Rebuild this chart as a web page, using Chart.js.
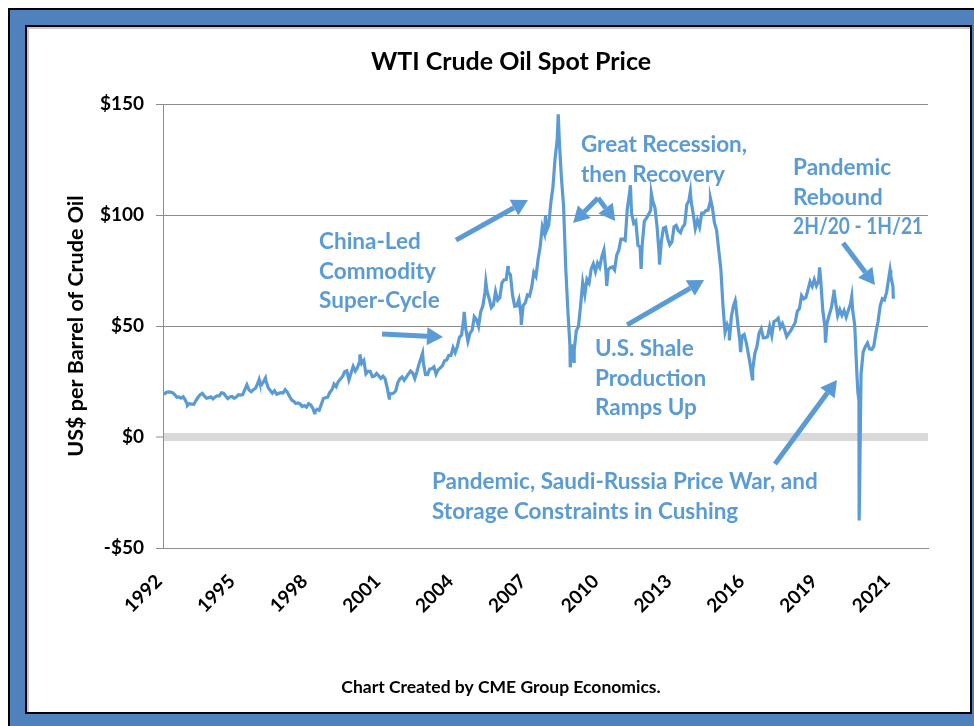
<!DOCTYPE html>
<html>
<head>
<meta charset="utf-8">
<script src="https://cdn.jsdelivr.net/npm/chart.js@4.4.1/dist/chart.umd.min.js"></script>
<style>
  html, body { margin: 0; padding: 0; background: #fff; }
  body { width: 974px; height: 726px; position: relative; overflow: hidden; }
  .frame { position: absolute; left: 8px; top: 8px; width: 980px; height: 740px; background: #4f81bd; border-top: 2px solid #000; border-left: 2px solid #000; }
  .box { position: absolute; left: 25px; top: 25px; width: 943px; height: 685px; border: 2px solid #000; background: #fff; box-shadow: inset 2px 2px 0 #c8c8c8; }
  canvas { position: absolute; left: 27px; top: 27px; }
</style>
</head>
<body>
<div class="frame"></div>
<div class="box"></div>
<canvas id="wtiChart" width="943" height="685"></canvas>
<script>
// monthly average WTI spot price, US$ per barrel, starting Jan 1993
const startYear = 1993;
const wti1990s = [
    19.08, 20.05, 20.33, 20.25, 19.95, 19.09, 17.89, 18.01, 17.50, 18.15, 16.61, 14.52,
    15.03, 14.78, 14.68, 16.42, 17.89, 19.06, 19.66, 18.38, 17.45, 17.72, 18.07, 17.16,
    18.04, 18.57, 18.54, 19.90, 19.74, 18.45, 17.33, 18.02, 18.23, 17.43, 17.99, 19.03,
    18.86, 19.09, 21.33, 23.50, 21.17, 20.42, 21.30, 21.90, 23.97, 24.88, 23.71, 25.23,
    25.13, 22.18, 20.97, 19.70, 20.82, 19.26, 19.66, 19.95, 19.80, 21.33, 20.19, 18.33,
    16.72, 16.06, 15.12, 15.35, 14.91, 13.72, 14.17, 13.47, 15.03, 14.46, 13.00, 11.35,
    12.52, 12.01, 14.68, 17.31, 17.72, 17.92, 20.10, 21.28, 23.80, 22.69, 25.00, 26.10
];
const wti2000s = [
    27.26, 29.37, 29.84, 25.72, 28.79, 31.82, 29.70, 31.26, 33.88, 33.11, 34.42, 28.44,
    29.59, 29.61, 27.25, 27.49, 28.63, 27.60, 26.43, 27.37, 26.20, 22.17, 19.64, 19.39,
    19.72, 20.72, 24.53, 26.18, 27.04, 25.52, 26.97, 28.39, 29.66, 28.84, 26.35, 29.46,
    32.95, 35.83, 33.51, 28.17, 28.11, 30.66, 30.75, 31.57, 28.31, 30.34, 31.11, 32.13,
    34.31, 34.69, 36.74, 36.75, 40.28, 38.03, 40.78, 44.90, 45.94, 53.28, 48.47, 43.15,
    46.84, 48.15, 54.19, 52.98, 49.83, 56.35, 59.00, 64.99, 65.59, 62.26, 58.32, 59.41,
    65.49, 61.63, 62.69, 69.44, 70.84, 70.95, 74.41, 73.04, 63.80, 58.89, 59.08, 61.96,
    54.51, 59.28, 60.44, 63.98, 63.46, 67.49, 74.12, 72.36, 79.92, 85.80, 94.77, 91.69,
    92.97, 95.39, 105.45, 112.58, 125.40, 133.88, 133.37, 116.67, 104.11, 76.61, 57.31, 41.12,
    41.71, 39.09, 47.94, 49.65, 59.03, 69.64, 64.15, 71.05, 69.41, 75.72, 77.99, 74.47
];
const wti2010s = [
    78.33, 76.39, 81.20, 84.29, 73.74, 75.34, 76.32, 76.60, 75.24, 81.89, 84.25, 89.15,
    89.17, 88.58, 102.86, 109.53, 100.90, 96.26, 97.30, 86.33, 85.52, 86.32, 97.16, 98.56,
    100.27, 102.20, 106.16, 103.32, 94.66, 82.30, 87.90, 94.13, 94.51, 89.49, 86.53, 87.86,
    94.76, 95.31, 92.94, 92.02, 94.51, 95.77, 104.67, 106.57, 106.29, 100.54, 93.86, 97.63,
    94.62, 100.82, 100.80, 102.07, 102.18, 105.79, 103.59, 96.54, 93.21, 84.40, 75.79, 59.29,
    47.22, 50.58, 47.82, 54.45, 59.27, 59.82, 50.90, 42.87, 45.48, 46.22, 42.44, 37.19,
    31.68, 30.32, 37.55, 40.75, 46.71, 48.76, 44.65, 44.72, 45.18, 49.78, 45.66, 51.97,
    52.50, 53.47, 49.33, 51.06, 48.48, 45.18, 46.63, 48.04, 49.82, 51.58, 56.64, 57.88,
    63.70, 62.23, 62.73, 66.25, 69.98, 67.87, 70.98, 68.06, 70.23, 70.75, 56.96, 49.52,
    51.38, 54.95, 58.15, 63.86, 60.83, 54.66, 57.35, 54.81, 56.95, 53.96, 57.03, 59.88
];
const wti2020s = [
    57.52, 50.54, 29.21, 16.55, 28.56, 38.31, 40.71, 42.34, 39.63, 39.40, 40.94, 47.02,
    52.00, 59.04, 62.33, 61.72, 65.17, 71.38, 72.49, 67.73
];

// daily highs / lows that the monthly averages smooth away
const spikeDates = [1993.96, 1996.77, 1997.02, 1998.94, 2000.72, 2001.87, 2003.18, 2004.81,
    2005.66, 2006.53, 2007.05, 2008.00, 2008.50, 2008.97, 2009.12, 2010.40, 2011.33, 2011.75,
    2012.15, 2012.47, 2013.68, 2014.47, 2015.21, 2015.44, 2015.65, 2016.11, 2018.75, 2018.98,
    2019.31, 2020.01, 2020.25, 2020.30, 2021.51, 2021.64];
const spikePrices = [14.2, 25.9, 26.6, 10.8, 37.2, 17.5, 37.8, 56.4,
    69.8, 77.0, 50.5, 99.6, 145.3, 31.4, 34.0, 68.0, 113.4, 75.7,
    109.8, 77.7, 110.5, 107.3, 43.5, 61.4, 38.2, 26.2, 76.4, 42.5,
    66.3, 63.3, 20.1, -37.6, 75.2, 62.3];

const yTickValues = [-50, 0, 50, 100, 150];
const yTickLabels = ['-$50', '$0', '$50', '$100', '$150'];
const xTickLabels = ['1992', '1995', '1998', '2001', '2004', '2007', '2010', '2013', '2016', '2019', '2021'];
const xTickPos = [1992.84, 1995.70, 1998.55, 2001.41, 2004.26, 2007.12, 2009.97, 2012.83, 2015.68, 2018.54, 2021.39];

const chartTitle = 'WTI Crude Oil Spot Price';
const footerText = 'Chart Created by CME Group Economics.';
const yTitle = 'US$ per Barrel of Crude Oil';

// annotation text (first line anchored at [year, price], left aligned)
const notes = [
    { lines: ['China-Led', 'Commodity', 'Super-Cycle'], at: [1999.12, 87.8] },
    { lines: ['Great Recession,', 'then Recovery'], at: [2009.39, 131.5] },
    { lines: ['U.S. Shale', 'Production', 'Ramps Up'], at: [2009.94, 39.6] },
    { lines: ['Pandemic', 'Rebound', '2H/20 - 1H/21'], at: [2017.71, 121.2], maxWidth: 130 },
    { lines: ['Pandemic, Saudi-Russia Price War, and', 'Storage Constraints in Cushing'], at: [2003.55, -20.3] }
];
const arrows = [
    [[2001.59, 46.4], [2003.98, 45.0]],
    [[2004.49, 88.7], [2007.31, 106.8]],
    [[2010.06, 107.7], [2009.08, 96.4]],
    [[2010.06, 107.7], [2010.73, 97.3]],
    [[2011.20, 50.5], [2014.22, 70.7]],
    [[2019.67, 87.4], [2020.92, 68.5]],
    [[2017.00, -12.2], [2019.43, 25.7]]
];

const blue = '#5b9bd5';
const gridGray = '#8c8c8c';
const fontFamily = 'Lato, "Open Sans", sans-serif';

let monthly = wti1990s.concat(wti2000s, wti2010s, wti2020s);
let points = monthly.map((v, i) => ({ x: startYear + (i + 0.5) / 12, y: v }));
for (let i = 0; i < spikeDates.length; i++) {
    points.push({ x: spikeDates[i], y: spikePrices[i] });
}
points.sort((a, b) => a.x - b.x);

function drawArrow(ctx, x1, y1, x2, y2) {
    const ang = Math.atan2(y2 - y1, x2 - x1);
    const head = 16, half = 9;
    const bx = x2 - head * Math.cos(ang);
    const by = y2 - head * Math.sin(ang);
    ctx.beginPath();
    ctx.moveTo(x1, y1);
    ctx.lineTo(bx, by);
    ctx.stroke();
    ctx.beginPath();
    ctx.moveTo(x2, y2);
    ctx.lineTo(bx + half * Math.sin(ang), by - half * Math.cos(ang));
    ctx.lineTo(bx - half * Math.sin(ang), by + half * Math.cos(ang));
    ctx.closePath();
    ctx.fill();
}

const notesPlugin = {
    id: 'notes',
    afterDraw(chart) {
        const ctx = chart.ctx;
        const x = chart.scales.x, y = chart.scales.y;
        ctx.save();

        ctx.fillStyle = '#000';
        ctx.textAlign = 'center';
        ctx.textBaseline = 'middle';
        ctx.font = 'bold 25px ' + fontFamily;
        ctx.fillText(chartTitle, 484, 35);
        ctx.font = 'bold 17.5px ' + fontFamily;
        ctx.fillText(footerText, 474, 660);

        ctx.fillStyle = blue;
        ctx.strokeStyle = blue;
        ctx.textAlign = 'left';
        ctx.font = 'bold 22.5px ' + fontFamily;
        notes.forEach(n => {
            const px = x.getPixelForValue(n.at[0]);
            const py = y.getPixelForValue(n.at[1]);
            n.lines.forEach((t, k) => {
                if (n.maxWidth) {
                    ctx.fillText(t, px, py + k * 29.5, n.maxWidth);
                } else {
                    ctx.fillText(t, px, py + k * 29.5);
                }
            });
        });

        ctx.lineWidth = 5;
        arrows.forEach(a => {
            drawArrow(ctx,
                x.getPixelForValue(a[0][0]), y.getPixelForValue(a[0][1]),
                x.getPixelForValue(a[1][0]), y.getPixelForValue(a[1][1]));
        });
        ctx.restore();
    }
};

let ctx = document.getElementById('wtiChart').getContext('2d');

let wtiChart = new Chart(ctx, {
    type: 'line',
    data: {
        datasets: [{
            label: 'WTI',
            data: points,
            borderColor: blue,
            borderWidth: 3.2,
            pointRadius: 0,
            tension: 0,
            fill: false
        }]
    },
    options: {
        responsive: false,
        animation: false,
        events: [],
        layout: {
            padding: { left: 36, right: 42, top: 77, bottom: 84 }
        },
        plugins: {
            legend: { display: false },
            tooltip: { enabled: false }
        },
        scales: {
            x: {
                type: 'linear',
                min: 1993,
                max: 2023,
                afterBuildTicks: (scale) => {
                    scale.ticks = xTickPos.map(v => ({ value: v }));
                },
                afterFit: (scale) => { scale.height = 80; },
                grid: { display: false, drawTicks: false },
                border: { display: true, color: gridGray, width: 1 },
                ticks: {
                    autoSkip: false,
                    minRotation: 45,
                    maxRotation: 45,
                    padding: 22,
                    color: '#000',
                    font: { family: fontFamily, size: 19, weight: 'bold' },
                    callback: (v, i) => xTickLabels[i]
                }
            },
            y: {
                min: -50,
                max: 150,
                afterBuildTicks: (scale) => {
                    scale.ticks = yTickValues.map(v => ({ value: v }));
                },
                afterFit: (scale) => { scale.width = 100; },
                grid: {
                    color: (c) => c.tick && c.tick.value === 0 ? '#d9d9d9' : gridGray,
                    lineWidth: (c) => c.tick && c.tick.value === 0 ? 8 : 1,
                    tickColor: gridGray,
                    tickWidth: 1,
                    tickLength: 7
                },
                border: { display: true, color: gridGray, width: 1 },
                ticks: {
                    padding: 12,
                    color: '#000',
                    font: { family: fontFamily, size: 19, weight: 'bold' },
                    callback: (v, i) => yTickLabels[i]
                },
                title: {
                    display: true,
                    text: yTitle,
                    color: '#000',
                    padding: 0,
                    font: { family: fontFamily, size: 21.5, weight: 'bold' }
                }
            }
        }
    },
    plugins: [notesPlugin]
});
</script>
</body>
</html>
